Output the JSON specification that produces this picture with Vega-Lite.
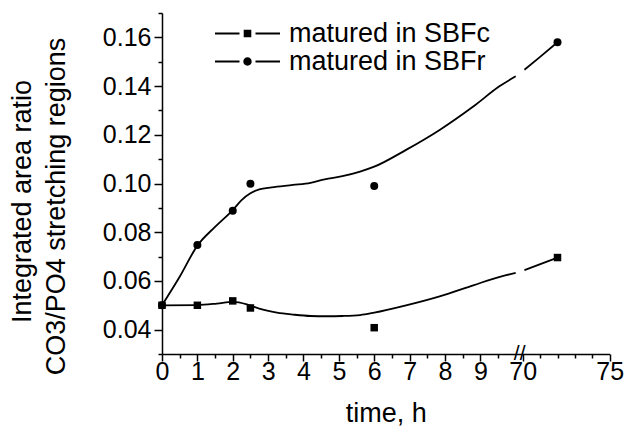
{
  "$schema": "https://vega.github.io/schema/vega-lite/v6.json",
  "width": 448,
  "height": 341,
  "autosize": "none",
  "padding": {"left": 162, "top": 13, "right": 16, "bottom": 73},
  "background": "white",
  "config": {
    "view": {"stroke": null},
    "font": "Liberation Sans",
    "axis": {
      "grid": false,
      "domainColor": "black",
      "domainWidth": 1.5,
      "tickColor": "black",
      "tickWidth": 1.5,
      "labelColor": "black",
      "titleColor": "black",
      "labelFont": "Liberation Sans",
      "titleFont": "Liberation Sans",
      "labelFontSize": 25,
      "titleFontSize": 27,
      "titleFontWeight": "normal",
      "labelOverlap": false,
      "labelBound": false,
      "labelFlush": false
    }
  },
  "datasets": {
    "points": [
      {"time": 0, "ratio": 0.050, "series": "matured in SBFc"},
      {"time": 1, "ratio": 0.0500, "series": "matured in SBFc"},
      {"time": 2, "ratio": 0.0518, "series": "matured in SBFc"},
      {"time": 2.5, "ratio": 0.0489, "series": "matured in SBFc"},
      {"time": 6, "ratio": 0.0408, "series": "matured in SBFc"},
      {"time": 72, "ratio": 0.0696, "series": "matured in SBFc"},
      {"time": 0, "ratio": 0.050, "series": "matured in SBFr"},
      {"time": 1, "ratio": 0.0748, "series": "matured in SBFr"},
      {"time": 2, "ratio": 0.0888, "series": "matured in SBFr"},
      {"time": 2.5, "ratio": 0.0999, "series": "matured in SBFr"},
      {"time": 6, "ratio": 0.0990, "series": "matured in SBFr"},
      {"time": 72, "ratio": 0.158, "series": "matured in SBFr"}
    ],
    "curves": [
      {"time": 0, "ratio": 0.0500, "curve": "r1"},
      {"time": 0.5, "ratio": 0.0617, "curve": "r1"},
      {"time": 1.0, "ratio": 0.0745, "curve": "r1"},
      {"time": 1.5, "ratio": 0.0822, "curve": "r1"},
      {"time": 2.0, "ratio": 0.0891, "curve": "r1"},
      {"time": 2.25, "ratio": 0.0932, "curve": "r1"},
      {"time": 2.5, "ratio": 0.0960, "curve": "r1"},
      {"time": 2.75, "ratio": 0.0976, "curve": "r1"},
      {"time": 3.1, "ratio": 0.0984, "curve": "r1"},
      {"time": 3.7, "ratio": 0.0994, "curve": "r1"},
      {"time": 4.2, "ratio": 0.1003, "curve": "r1"},
      {"time": 4.6, "ratio": 0.1017, "curve": "r1"},
      {"time": 5.1, "ratio": 0.1030, "curve": "r1"},
      {"time": 5.6, "ratio": 0.1049, "curve": "r1"},
      {"time": 6.0, "ratio": 0.1069, "curve": "r1"},
      {"time": 6.9, "ratio": 0.1138, "curve": "r1"},
      {"time": 7.85, "ratio": 0.1220, "curve": "r1"},
      {"time": 8.8, "ratio": 0.1316, "curve": "r1"},
      {"time": 9.55, "ratio": 0.1400, "curve": "r1"},
      {"time": 10, "ratio": 0.1440, "curve": "r1"},
      {"time": 70.1, "ratio": 0.1467, "curve": "r2"},
      {"time": 71, "ratio": 0.1520, "curve": "r2"},
      {"time": 72, "ratio": 0.1580, "curve": "r2"},
      {"time": 0, "ratio": 0.0500, "curve": "c1"},
      {"time": 1.0, "ratio": 0.0501, "curve": "c1"},
      {"time": 1.55, "ratio": 0.0507, "curve": "c1"},
      {"time": 2.0, "ratio": 0.0514, "curve": "c1"},
      {"time": 2.4, "ratio": 0.0504, "curve": "c1"},
      {"time": 2.75, "ratio": 0.0486, "curve": "c1"},
      {"time": 3.25, "ratio": 0.0470, "curve": "c1"},
      {"time": 3.7, "ratio": 0.0462, "curve": "c1"},
      {"time": 4.2, "ratio": 0.0456, "curve": "c1"},
      {"time": 4.65, "ratio": 0.0455, "curve": "c1"},
      {"time": 5.1, "ratio": 0.0456, "curve": "c1"},
      {"time": 5.6, "ratio": 0.0460, "curve": "c1"},
      {"time": 6.0, "ratio": 0.0470, "curve": "c1"},
      {"time": 6.9, "ratio": 0.0500, "curve": "c1"},
      {"time": 7.85, "ratio": 0.0537, "curve": "c1"},
      {"time": 8.8, "ratio": 0.0582, "curve": "c1"},
      {"time": 9.55, "ratio": 0.0617, "curve": "c1"},
      {"time": 10, "ratio": 0.0633, "curve": "c1"},
      {"time": 70.1, "ratio": 0.0644, "curve": "c2"},
      {"time": 72, "ratio": 0.0696, "curve": "c2"}
    ]
  },
  "resolve": {"axis": {"x": "independent", "y": "independent"}},
  "encoding": {
    "x": {
      "field": "time",
      "type": "quantitative",
      "scale": {"type": "linear", "domain": [0, 10, 70, 75], "range": [0, 353.7, 360.7, 447.7], "nice": false, "zero": false}
    },
    "y": {
      "field": "ratio",
      "type": "quantitative",
      "scale": {"domain": [0.03, 0.17], "nice": false, "zero": false}
    }
  },
  "layer": [
    {
      "data": {"name": "curves"},
      "mark": {"type": "line", "interpolate": "monotone", "color": "black", "strokeWidth": 1.8},
      "encoding": {
        "detail": {"field": "curve", "type": "nominal"},
        "x": {
          "field": "time", "type": "quantitative",
          "axis": {
            "orient": "bottom",
            "values": [0, 1, 2, 3, 4, 5, 6, 7, 8, 9, 70, 75],
            "tickSize": 7,
            "labelPadding": -2,
            "title": "time, h",
            "titleY": 67,
            "titleBaseline": "alphabetic"
          }
        },
        "y": {
          "field": "ratio", "type": "quantitative",
          "axis": {
            "orient": "left",
            "values": [0.04, 0.06, 0.08, 0.10, 0.12, 0.14, 0.16],
            "format": ".2f",
            "tickSize": 8,
            "labelPadding": 3,
            "title": "CO3/PO4 stretching regions",
            "titleX": -106,
            "titleY": 193,
            "titleAngle": -90,
            "titleAlign": "center",
            "titleBaseline": "middle"
          }
        }
      }
    },
    {
      "data": {"name": "points"},
      "transform": [{"filter": "datum.series === 'matured in SBFc'"}],
      "mark": {"type": "point", "shape": "square", "filled": true, "color": "black", "size": 56, "opacity": 1},
      "encoding": {
        "x": {
          "field": "time", "type": "quantitative",
          "axis": {
            "orient": "bottom",
            "values": [0.5, 1.5, 2.5, 3.5, 4.5, 5.5, 6.5, 7.5, 8.5, 9.5, 40, 71, 72, 73, 74],
            "tickSize": 4,
            "tickOpacity": {"condition": {"test": "datum.value === 40", "value": 0}, "value": 1},
            "labelExpr": "datum.value === 40 ? '//' : ''",
            "labelFontSize": 21,
            "labelBaseline": "middle",
            "labelPadding": -5,
            "domain": false,
            "title": null
          }
        },
        "y": {
          "field": "ratio", "type": "quantitative",
          "axis": {
            "orient": "left",
            "values": [0.03, 0.05, 0.07, 0.09, 0.11, 0.13, 0.15, 0.17],
            "tickSize": 4,
            "labels": false,
            "domain": false,
            "title": "Integrated area ratio",
            "titleX": -140,
            "titleY": 188,
            "titleAngle": -90,
            "titleAlign": "center",
            "titleBaseline": "middle"
          }
        }
      }
    },
    {
      "data": {"name": "points"},
      "transform": [{"filter": "datum.series === 'matured in SBFr'"}],
      "mark": {"type": "point", "shape": "circle", "filled": true, "color": "black", "size": 64, "opacity": 1},
      "encoding": {
        "x": {"field": "time", "type": "quantitative", "axis": null},
        "y": {"field": "ratio", "type": "quantitative", "axis": null}
      }
    },
    {
      "data": {"name": "points"},
      "mark": {"type": "point", "filled": true, "color": "black", "size": 0},
      "encoding": {
        "x": {"field": "time", "type": "quantitative", "axis": null},
        "y": {"field": "ratio", "type": "quantitative", "axis": null},
        "shape": {
          "field": "series",
          "type": "nominal",
          "scale": {
            "domain": ["matured in SBFc", "matured in SBFr"],
            "range": [
              "M-3.25,-0.09H-0.8V0.09H-3.25ZM0.8,-0.09H3.25V0.09H0.8ZM-0.38,-0.38H0.38V0.38H-0.38Z",
              "M-3.25,-0.09H-0.8V0.09H-3.25ZM0.8,-0.09H3.25V0.09H0.8ZM0.42,0A0.42,0.42,0,1,1,-0.42,0A0.42,0.42,0,1,1,0.42,0Z"
            ]
          },
          "legend": {
            "orient": "none",
            "legendX": 72,
            "legendY": 7,
            "title": null,
            "padding": 0,
            "symbolSize": 400,
            "symbolStrokeWidth": 0,
            "symbolFillColor": "black",
            "symbolOpacity": 1,
            "labelFont": "Liberation Sans",
            "labelFontSize": 27,
            "labelColor": "black",
            "labelOffset": 28,
            "rowPadding": 0,
            "labelLimit": 400
          }
        }
      }
    }
  ]
}
